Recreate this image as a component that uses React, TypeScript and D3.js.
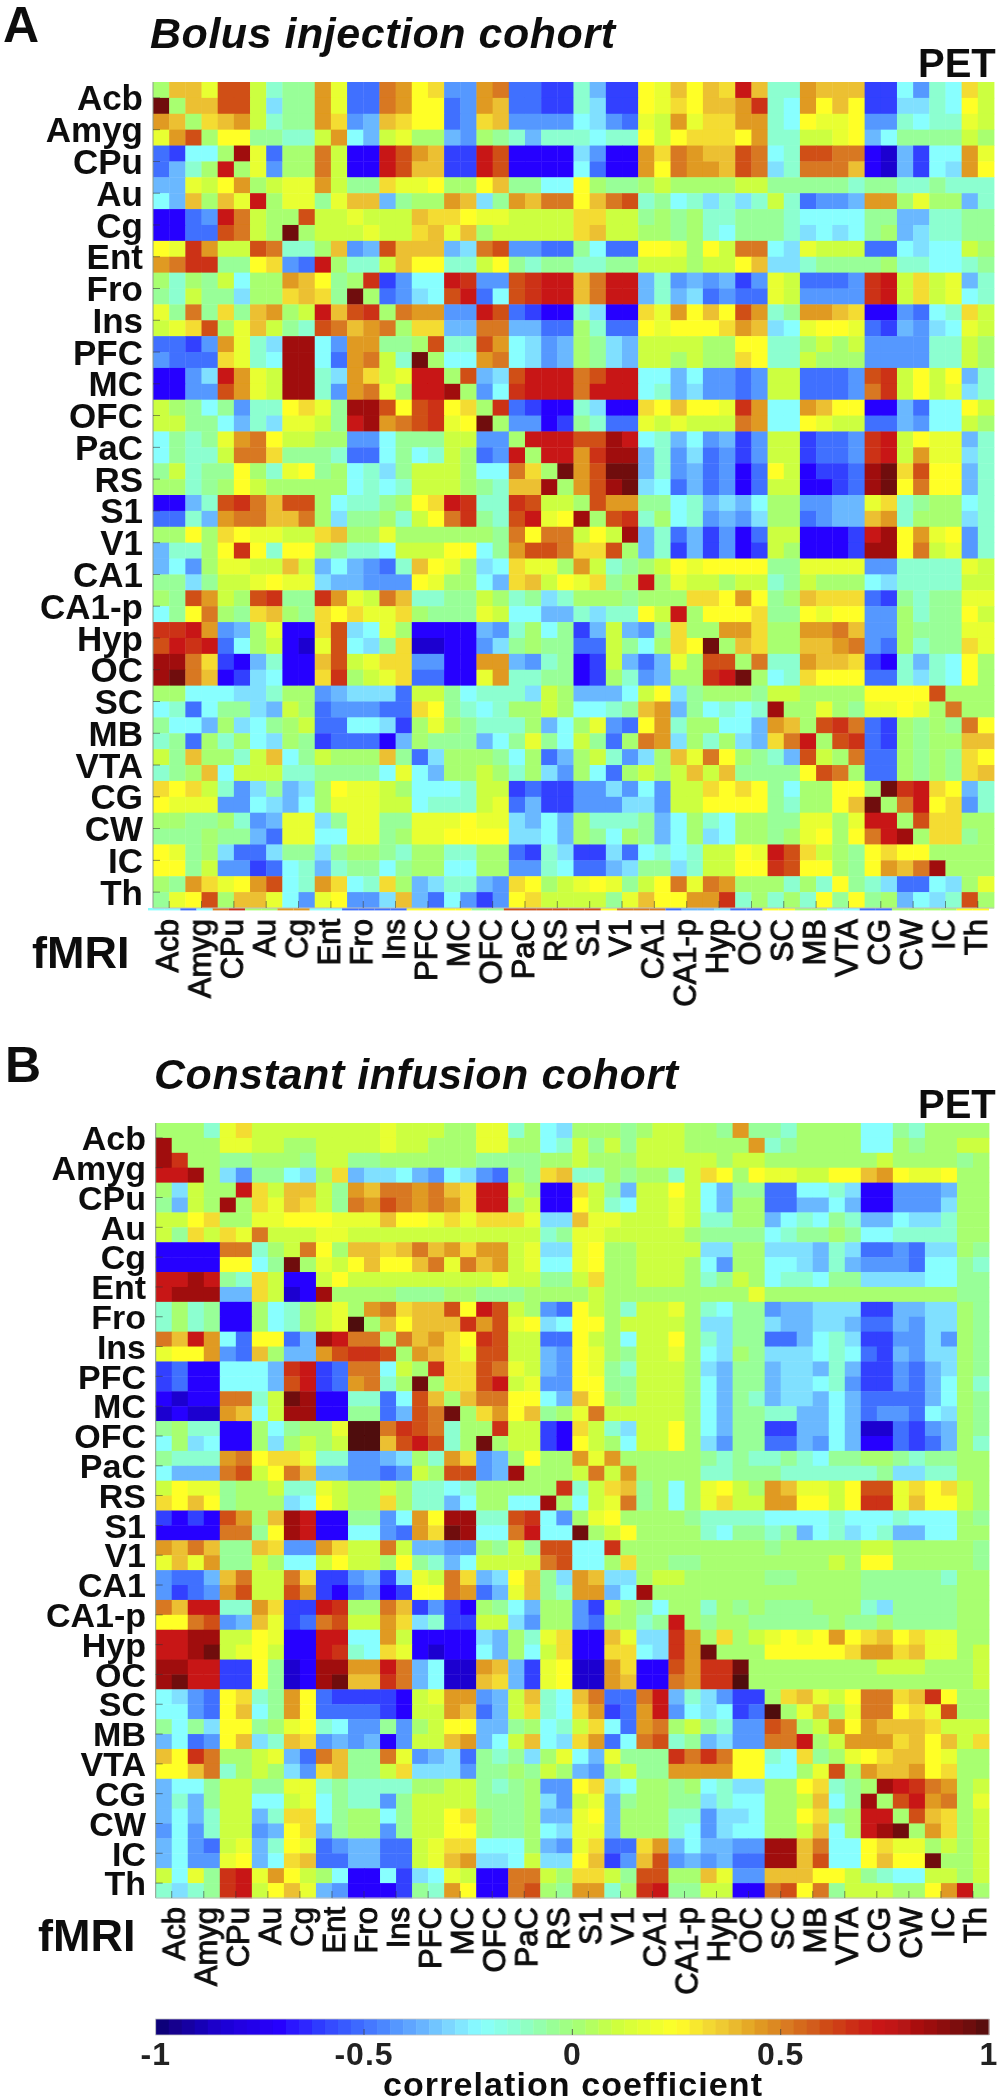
import React from "react";
import * as d3 from "d3";

const regions = ["Acb","Amyg","CPu","Au","Cg","Ent","Fro","Ins","PFC","MC","OFC","PaC","RS","S1","V1","CA1","CA1-p","Hyp","OC","SC","MB","VTA","CG","CW","IC","Th"];

// Each letter is one cell's estimated correlation, decoded through levelValues.
const levelCodes = "ABCDEFGHIJKLMNOPQRSTUVWX";
const levelValues = [-0.85,-0.7,-0.6,-0.5,-0.42,-0.35,-0.28,-0.22,-0.13,-0.05,0.02,0.1,0.18,0.25,0.32,0.38,0.45,0.52,0.6,0.67,0.75,0.85,0.95,1];

const colorDomain = [-1,-0.85,-0.7,-0.6,-0.5,-0.42,-0.35,-0.28,-0.22,-0.13,-0.05,0.02,0.1,0.18,0.25,0.32,0.38,0.45,0.52,0.6,0.67,0.75,0.85,0.95,1];
const colorRange = ["#100070","#1c00d0","#2800ff","#3040ff","#4070ff","#5598ff","#6ab8ff","#80e0ff","#88ffff","#8cffd0","#98ff98","#a8ff70","#ccff40","#e8ff30","#ffff28","#f4dc30","#ecc030","#e09a20","#d87820","#d05018","#cc3018","#c81414","#a01010","#701010","#500808"];

const bolusRows = [
"KPPMSSLIJJQMDDRQNOEEQRDDCCIFCCNMPNPOUPIIQPPPCCHEIHOL",
"WKPPSSLGJJQMDDRQNNDEQPDDCCIGCCNMONPPQTIHQNPNCCGGIHNL",
"QPKOPQLIJJQOEFPONNDEOPEEEEHGEDMLQMOOQQIHNMMNEEIHIIML",
"MQSKNNJJIILQHFLMKKFEKJIFIIIHIINLNOOONQIILLMNFHJJJJLK",
"DCHHKVMDKKRLBBUSQPCCUSBBBBGEBBQORQPPSRHISSRRBAFCHHQM",
"DFIKUKMEKKRLBBUSPPCCUSBBBBHDBBQNRQQPSRGIRRRPBAFCHGQN",
"FFMLNQKLMMQLJJOMMNKKNPJJHHNKJJKLKKKKLLJJJJJIJJIIJIII",
"HFPKPMUKMMJMPPFJKKQPGJQPRRNPRSIJHIGIGILIDEEFQQKMKKFI",
"BBDEURLKKSLLMLLLPOONMMLLLLOOLLJKJKIIJJJIHHHHJJFFIIJJ",
"BBDDSRLKWKLLLMLLOPMPKLLLLLOPLLKKJKIHJJJIGHGHJKFGIIJJ",
"NMTQLLSRIIKPEFSPPPFGRSEEDDJHDDNNMKNLRRHGMLLLDDHGHHLK",
"QRTTJJNOEDUKIILPNNIILNJIJJIIJJLLLKLLNPGGIJJJJKIIHHIJ",
"KIKJLHKKQPNJKTCEHHUTEESTUUPRUUFIEFEFCEMLDDDETULOLMFI",
"JILJJGKKOPOJWKDEGHSUDHSTUUPRUUFIFGDEDDMLEEEETULOLMHI",
"MJRJOJPQKLUPSTKRQQEEUSDCBBIGBBOMQNPNSQIJQQPOBBEDHIOL",
"LMOSKMPLJISRPQRKOOFFRRFFDDKIDDNMNNNOQPGHMNNMDCFEGHML",
"DDCEQMIGVVHEQQJJKSIISQHGEFKJGFLLLLKKNNIIKLKLEEEEIILK",
"EDDDOMIHVVHDQRLIWKHHQRHGEFKJGFLLKLKKONIILKKKEEEEIILK",
"BBEGUQMLVVIGQOLMUUKSFGSUUURSUUHHFHEEDELLDDDESTLNLNFI",
"BBEESQMLVVIEQRMKUUVKEHTUUURUUUHIFGEEDELLDDDERTLNLMGI",
"LKJHJEIINOMJVVSNSTNOKTDCBBIGBBONPNNMTQHHQPNNBBFDHHNL",
"LLJJHFIGMMLJUVQRSTMNWKEEBCJIDDMLMLLLRQHHNMLLDDFEHHLK",
"HJIJMQRNLLKKEEHJJJLLEEKUUUSSVUHIFHEFCELLCDDETULNMMFI",
"HJIILRROJJJIDDHJHILKDEUKUUQTVVFIEGDECELLCDDETULQMMGI",
"JLIJJNKIMNJKHIGJLLLKHHROKWQSWWFIEFDEBDNLBCCDVWOSNNFI",
"KKIJKNLKKKKKHIHILLLKJIPPVKQSVWGHDFDEBDLLBBCDVWNRNNFI",
"BBFISTRPSSKHIIJKNOUTIITSLLKSQQJJHIFGFHKKEEFFMOIJKKHI",
"DDIFQRRPPRKGJJKILNRTJISUMNVKSTIKHIEFEGKKDEFFPQIKKKGI",
"KKNKONMMLLOPKKMKKKKKKJRNRRLNLVFIDFCEBDLLBBBCUVNQMNEI",
"FIIKNTNINNKJIIHLLLNNHJQSSROOSKFICFCEBCLKBBBCVVNRLMEI",
"FHEKMMLLPLFHFEDIPNMKGHOMMKQLIJKLNMNNNNJJMMMMEEIIIIML",
"JJGJLLMNMMGFFEEENMKKHFOPLNMOJKUKMLLKLLIJLKKKHGIIIILL",
"KJSQLKSTJJTQMLRPIIJJLKIJGIKKKJKKKOONQNJKPOOODCJIJJMM",
"HJNRKJOPKJONOMMOKJJJMLHHFFIGIINLUKNNNOJJNMNNEEKIJJNL",
"TTUQEFKMBBOSGHMKBBBBFEIKHJCFLFEJOKKQQOKKQQRPEEKJJJMM",
"SUTUDHKLBAMSHGJOAABBEGJKJJDDLJHKONWKPOKKPPQREDKIJJOM",
"VVROCBFIBBPSLMOOEEBBQQFEIJBCLFDFMKSSKRIIQPPOCBIFIHNK",
"VWRPBCGHBBOTKLMODDBBMQIIJJBCKIEFKKTUWKHIONNNDDIGIHNK",
"KKHHHGGIKKEFGGGDLLJHIIIGLKFFFHLNGJKKKJLLKKKKNNNNSKKK",
"HIDHJJGFLKDEEEDDONJIHIKKLKHHIJPQFJHIHIVKKMKJMMNMKRKK",
"JHHFKGHJKLDDHHGCKMKJIIIKFHKMEDNQIKKHHFQPKSTRDCKJKJRN",
"IJDKIKHGKJCDDDBFKJJJFHJMJHLJDKRQGKIKGFORUKSTDCKJKKPP",
"LJPKKILPHJLKKKPJDGKKKJHKDFKLIEGKPMRNKJIFSLKRDDKJKJON",
"IJKPHLLLIIJJJJHMHFKKLKIKGEKHDKLKLPLPJJJJNSRKDDKJKJOP",
"ONOLIEGJFGKNMMLKHHHILLCDCCEEGEHELLONONJHKKNNKWTUONFI",
"NMMMEEHGFHKMMMLLHIIILMDFCCEEEGGELLNNNNJIKKNPWKRUNOEI",
"KKJJKIEFMMGJMMJJMMMNMMGFHFKIIIJFHKIHKKJJMMKMUUKSOOKK",
"JJJKJJFDMMHHMMJKMMNNNNGGHFKJHKJFHKGHKKJKMNKNRUVKOOJK",
"NMJKGDDGJJGJKKJIKKIIKKDCIGCCGDHIHILLNMUSOLKJNONNKKKK",
"NNJLEECDHIFIJJHJKKHHKKEEIHDDFGJJGILLNNTSNNKJNQPRVKKK",
"KJQOMNQSHIQOHIOKFGIIFEONKLMNMJLNRMRQKKKIKINJIGDDHGKM",
"JMNSKPPMHEMNEEGPFDHECENOLLLLJMPNNQQTIKIKINJNJKFHGISK",
];

// The thin coloured sliver under panel A's matrix.
const bolusSliver = "HHDHRTKKQQHHDDDDNNNNJJSSSSSSNRRRDFFGDDNNKKHHDDKKKKNN";

const infusionRows = [
"KKKIMOLLLLLLLLMLLLKKMMIKHGKKKJKLLKKJQJJIKKKKHHJIKKKK",
"VKKKMMLLKKLLLLMLLKKKMMKKHILJLJLLLKKKKQIJKKKKHHKJKKLL",
"VTKKJJKKKJLLJJKKKKKKJJJJKKLKKKLLLLLKLLKKKKKKKLKKKKJK",
"UUVKGEJJHGKOFGGHFEHGEDKJOPIIKJKKILONKNMMLLNNPQNMMNKK",
"KGLKKUOLPPLJQPRRQRPOUULKBBOLJFLLNLHFJJDDHHIGBBEEEFKK",
"JFLKVKOMPOLJRQSRQRQOUUKLBBNLIHLLMLHFKKDDFFHFBBEEEGKK",
"LLNOKKMMNNNMMMPNNMOMOOOMGGPMMLLLMLIIKKFHIHJIFFHGGIKK",
"LJOLOMRLLLMMLLLLLLLLLLLLIJMMLLLLLKJJJJHIJJKJHHIIIIKK",
"BBBBRRIKLRNKPPOPRPQOQQLMGGMNKKLLLLGGKKGGGFIGDDEDGGKJ",
"BBBBNNHJWKMLNPNNPRMRPQLMHHMNKKLLLKHEKKHHGFIFEEEDHHJI",
"UUVUJIOLBBLNLLLLLLLLLMLLJJLOKKLLLKIJLKHIIHJJGGGGHHJJ",
"UVVVFFOLABVKKKKJJJKKJJJKKKKLKKKKKKKKKMKKKKKKKKKKKKJJ",
"IKIJBBKHIKLMKQROPPSNUSLKEDNLKILLMKIHJJEFFGGGCCFFGGKJ",
"IKIJBBKHIKLMXKPNPPPTQSMNGHNNKLLLLKGGJJGFFGGFDDFEGGKJ",
"RPUQHDNNDFVURRKRPQONTSLLDDNLKHLLNKIGJJDDFHIGCCEEGEKJ",
"MNNQEDPKFFQSTTSKQPOMSSLLFENMKJLLMKHGKJGGGHIHDCFEGGKJ",
"CDBBHHHFTUCDRRHLKTOOSRMLFENMJILLLKGFJJFGGFIFCCEDFGKJ",
"CDBBHHHFSUCDQRIKWKOOSULMEENNJJLLLKHFJJFGGHIECCEDFHKI",
"BABBRRILWVBBIIDHSPKPRRNNHFPNKJLLLKHFJIFGGFHFDDDDFHKJ",
"ABAAQPHLVVBBJJDFSRWKOQNPJKMRLLLLLKHFJJIIFFHFDEEDHGKJ",
"JKIIBBKHJKKMXXRTSRIKKTLLCBOLIGLLNKHFJJCCFFHFAADCEFKJ",
"HKGHBBKGKLKLXXPSUSIKWKLLCBNLKHLLNKGEJJDDFEHFBBDCDFKI",
"JIIIQRNOOMIIEEFGKIQOEFKNKKQMQKKKKKJIJIIJIHJJKKJIJJKK",
"HFFFRSLNRPFFEEDELKSSEFVKKKLRLQKKKKIIJJJIIIIIIJGGIIKK",
"LNMMJKKLIIMLKKLKIIHIKKKKKTILOPJKHKMNLKQPMMLNSSMONOLK",
"ONPNJKKKGHNLKKOKIIFHKKHHVKHLMRJKHKMOLLQQNNLNTTMPNNLK",
"CBCBSQKPVUBBJJEHQNVVIISTHEKMNKKKKJIIIIHHHHIHHHIHHHKJ",
"BBBBRRJNVUBBHHEDQOWVHHRUHHWKLNKKKKIHJJIJFHIGHIFFHHKK",
"QPRPJJPOEEQOLLRLFFEEKJLJSSHHTKKKKKKKKKJKKKKKLLKKKKKJ",
"MPMQJJLKHHLNLLKNJIFHLLLLRSHHKOKKJJKKKKKKKKLKNNKKKKKJ",
"EDDFPRLLROCCEFCGMLROFGNPJGQPGGKLLKKKKKJJKKKKJJJJJIKK",
"ECDEQSLLSQCBDEBCNNRQDFMPJIQQFHVKKKKKKKKKKKKKJJJJJJKK",
"RPUUIIQOCCUTKKRPCECBKJHFKKECLKJHKKIKJKJJJKKKIGJJJJKK",
"NNRSEFPMCDRSLLQOGICCLLGEKKEDKKIJUKJKKJJJJJKJJKJJJJKK",
"UUVVLLNMBBUUHHQLBBBBGFKIMOBBPMGGTQKOKLMNMNQNOPNOMMKK",
"UUVWLMNLBBUTIHOMBABBHFKHLOBBOOHGTQWKKKNNNNNOQQOPMMKL",
"VVUUCCNJABVVQQURFHAAQPFCMNAAQOBBSQTTWKKKKKKKKLLLKKKL",
"VWUUCCNJABVWPPTRFHAAPOFCMNAAQPBBRQTTXKKKKKKKKKKKKKKL",
"HGEDNOIJQNDCCCCBLMQQEFLPIHPRDDRUFIGECCKOPMLNRROPTNKK",
"HHEDNPHJQNDDDDCBLLQPDFLOIHOQCDQUEHGHCDXKMPKMRRNOMSKK",
"JHJGNNJKMNIHEEJEKLNNFFJKHILOHDQRKLJIEESRKLQNQPPPOLLL",
"FHDENPGIPOEFEFBELLPQFHLPHGOQDHRSIJFGEERRUKLQQQOPNPLO",
"PNTRKKLMFDRPJJRMEFGDJIJGKMHFMJJJTRTRNNIHOJKMNOPPNMKK",
"NNPRIKLKGEOPJJLOGGGEJJKJLKFEKLJJQQQQNNHHKMSKQPPQNOKK",
"FHHJLLJJMMIJIIIIKKLLJIJKEENOGHKKJKHIGGKKNOIJKVUTRQKL",
"FIFJLLHHLMHJIIEJLLLLJJJKGELMFJKKJJGIHHKKLPHJVKSUQRKM",
"FHFILLFIOOHJKKHJLLNOKJJKFFMNFKKKIIEGGHKKNOJKUUKSPOKL",
"EHEILLEFNOFJKKEJLLNNKJJKHGMMFKKKIHEGHHKKLPHKUVWKQOKL",
"FHEDLMFINMDEFFDDLMOOHHHKFEMODDOQFHFFEEVVPRHHNOMMKLKL",
"FHEEMNFHOPDDFFDDLMPQGGHLGGNPCEPSEFEFDDVVPSHHNPNNWKKL",
"LHMJTUMQNLKHBBHCGHMLBBRRLKOOLJSSKKPMEEPPPNNLJIHHLLKL",
"IGIJTULNPMFEBBBCJIQNBBRSKJQQIKTUJJLLBBRSNRJLLLKKNQUK",
];

const colorbarTicks = [-1,-0.5,0,0.5,1];

const color = d3.scaleLinear<string>().domain(colorDomain).range(colorRange).interpolate(d3.interpolateRgb);
const decode = (c: string) => levelValues[levelCodes.indexOf(c)];
const cellIndex = d3.range(52);

type PanelProps = {
  rows: string[]; letter: string; letterX: number; letterY: number; title: string; titleX: number; titleY: number; titleLen: number;
  x0: number; x1: number; y0: number; y1: number; rowRight: number; petX: number; petY: number;
  fmriX: number; fmriY: number; labelDx: number; labelTop: number; sliver?: string; rowFont: number;
};

function Panel(p: PanelProps) {
  const xs = d3.scaleBand<number>().domain(cellIndex).range([p.x0, p.x1]);
  const ys = d3.scaleBand<number>().domain(cellIndex).range([p.y0, p.y1]);
  const cw = xs.bandwidth(), ch = ys.bandwidth();
  return (
    <g>
      <g filter="url(#soft)">
        {p.rows.map((row, r) =>
          row.split("").map((c, k) => (
            <rect key={r + "-" + k} x={xs(k)} y={ys(r)} width={cw + 0.4} height={ch + 0.4} fill={color(decode(c))} />
          ))
        )}
        {p.sliver && p.sliver.split("").map((c, k) => (
          <rect key={"s" + k} x={(xs(k) as number) - 5} y={p.y1} width={cw} height={2.4} fill={color(decode(c))} />
        ))}
      </g>
      <line x1={p.x0} x2={p.x0} y1={p.y0} y2={p.y1} stroke="#8a9a8a" strokeWidth={1} />
      <line x1={p.x0} x2={p.x1} y1={p.y1} y2={p.y1} stroke="#c0c0c0" strokeWidth={1} />
      {regions.map((name, i) => {
        const ty = (ys(2 * i) as number) + ch;
        const tx = (xs(2 * i) as number) + cw;
        return (
          <g key={name}>
            <line x1={p.x0} x2={p.x0 + 7} y1={ty} y2={ty} stroke="#333" strokeWidth={0.8} opacity={0.7} />
            <line x1={tx} x2={tx} y1={p.y1} y2={p.y1 - 7} stroke="#333" strokeWidth={0.8} opacity={0.7} />
            <text x={p.rowRight} y={ty} dy="0.36em" textAnchor="end" fontSize={p.rowFont} fontWeight={700} filter="url(#softText)">{name}</text>
            <text transform={`translate(${tx + p.labelDx},${p.labelTop}) rotate(-90)`} textAnchor="end" fontSize={31} stroke="#111" strokeWidth={1} filter="url(#softText)">{name}</text>
          </g>
        );
      })}
      <text x={p.letterX} y={p.letterY} fontSize={50} fontWeight={700} filter="url(#softText)">{p.letter}</text>
      <text x={p.titleX} y={p.titleY} fontSize={43} fontWeight={700} fontStyle="italic" textLength={p.titleLen} filter="url(#softText)">{p.title}</text>
      <text x={p.petX} y={p.petY} fontSize={40} fontWeight={700} filter="url(#softText)">PET</text>
      <text x={p.fmriX} y={p.fmriY} fontSize={45} fontWeight={700} filter="url(#softText)">fMRI</text>
    </g>
  );
}

function Colorbar() {
  const x = d3.scaleLinear().domain([-1, 1]).range([155.7, 989]);
  const steps = d3.range(64).map((i) => -1 + (2 * i) / 64);
  const w = (989 - 155.7) / 64;
  return (
    <g>
      <g filter="url(#soft)">
        {steps.map((s) => (
          <rect key={s} x={x(s)} y={2019} width={w + 0.4} height={16} fill={color(s + 1 / 64)} />
        ))}
      </g>
      <rect x={155.7} y={2019} width={833.3} height={16} fill="none" stroke="#c4c4c4" strokeWidth={0.8} />
      {colorbarTicks.map((t) => (
        <g key={t}>
          {Math.abs(t) < 1 && <line x1={x(t)} x2={x(t)} y1={2035} y2={2029} stroke="#444" strokeWidth={0.8} />}
          <text x={x(t)} y={2065} textAnchor="middle" fontSize={32} fontWeight={700} letterSpacing={1} fill="#222" filter="url(#softText)">{t}</text>
        </g>
      ))}
      <text x={383} y={2096} fontSize={34} fontWeight={700} textLength={379} filter="url(#softText)">correlation coefficient</text>
    </g>
  );
}

export default function App() {
  return (
    <svg width={1002} height={2100} viewBox="0 0 1002 2100" style={{ position: "absolute", left: 0, top: 0, display: "block", fontFamily: "'Liberation Sans', Arial, sans-serif" }} fill="#111">
      <defs>
        <filter id="soft" x="-1%" y="-1%" width="102%" height="102%"><feGaussianBlur stdDeviation={0.7} /></filter>
        <filter id="softText" x="-10%" y="-20%" width="120%" height="140%"><feGaussianBlur stdDeviation={0.55} /></filter>
      </defs>
      <rect width={1002} height={2100} fill="#fff" />
      <Panel rows={bolusRows} sliver={bolusSliver} letter="A" letterX={3} letterY={42} title="Bolus injection cohort" titleX={150} titleY={48} titleLen={465}
        x0={153} x1={994} y0={82} y1={908} rowRight={143} petX={918} petY={77} fmriX={32} fmriY={968} labelDx={9} labelTop={919} rowFont={35} />
      <Panel rows={infusionRows} letter="B" letterX={5} letterY={1082} title="Constant infusion cohort" titleX={154} titleY={1089} titleLen={524}
        x0={155.7} x1={989} y0={1123} y1={1898} rowRight={146} petX={918} petY={1118} fmriX={38} fmriY={1951} labelDx={13} labelTop={1907} rowFont={34} />
      <Colorbar />
    </svg>
  );
}
